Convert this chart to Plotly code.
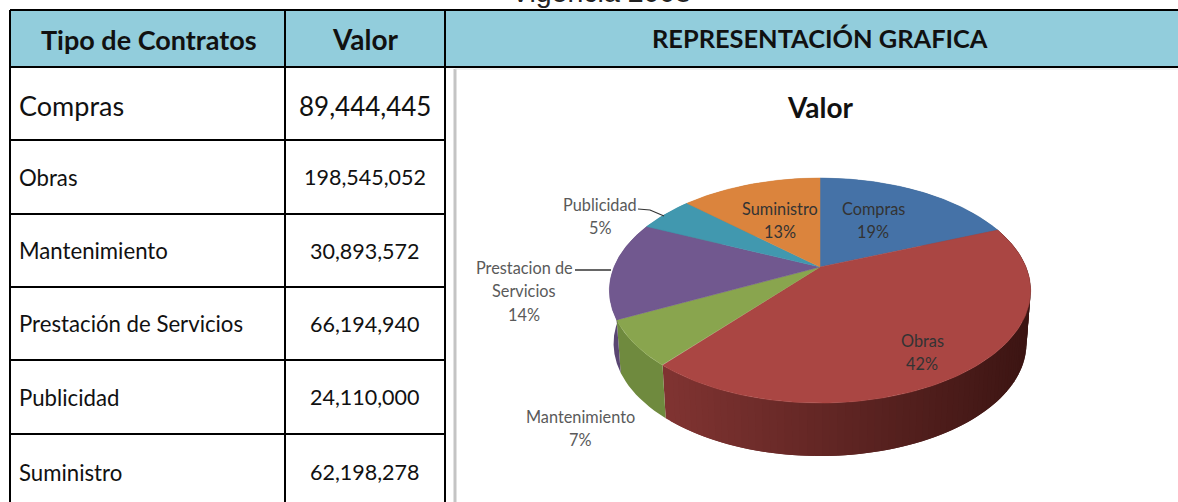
import numpy as np
import plotly.graph_objects as go

# ---- data ----
table_categories = ["Compras", "Obras", "Mantenimiento", "Prestación de Servicios", "Publicidad", "Suministro"]
values = [89444445, 198545052, 30893572, 66194940, 24110000, 62198278]
chart_labels = [["Compras"], ["Obras"], ["Mantenimiento"], ["Prestacion de", "Servicios"], ["Publicidad"], ["Suministro"]]
header_labels = ["Tipo de Contratos", "Valor", "REPRESENTACIÓN GRAFICA"]
page_title = "Vigencia 2008"
chart_title = "Valor"

# ---- styles / layout ----
top_colors = ["#4572a7", "#aa4643", "#89a54e", "#71588f", "#4198af", "#db843d"]
side_colors = ["#35567f", None, "#6f8a3e", "#5a4672", "#317a8d", "#b06a30"]
obras_side_from = np.array([0x3c, 0x15, 0x13])
obras_side_to = np.array([0x80, 0x34, 0x32])
FONT = "Lato"
row_edges = [67, 140, 214, 287, 360, 434]
col_edges = [10, 285, 445]
label_xy = [(873, 208), (922, 340), (580, 416), (524, 267), (600, 204), (780, 208)]
LINE_STEP = 23.5

# projection of the pie disc (pixel axes)
CX, CY, A, B, K, DEPTH, SHRINK = 820, 267, 206, 107.6, 0.209, 53, 0.98


def project(theta, drop=0.0, shrink=1.0):
    u, v = np.sin(theta), np.cos(theta)
    s = 1 / (1 + K * v)
    return CX + shrink * A * u * s, CY - B * v * s + drop


fig = go.Figure()
total = sum(values)
edges = np.concatenate([[0], np.cumsum(values)]) / total * 2 * np.pi

# page title, clipped by the page edge and the header band
fig.add_trace(go.Scatter(x=[601], y=[9], mode="text", text=[page_title], cliponaxis=True, textposition="top center",
                         textfont=dict(family="Liberation Sans", size=28.5, color="#222")))

# rim of the disc
for i in range(len(values)):
    a0, a1 = edges[i], edges[i + 1]
    n = 90 if side_colors[i] is None else 1
    cuts = np.linspace(a0, a1, n + 1)
    step = (a1 - a0) / n
    for j in range(n):
        t = np.linspace(max(a0, cuts[j] - step), cuts[j + 1], 12)
        xt, yt = project(t)
        xb, yb = project(t, DEPTH, SHRINK)
        if side_colors[i] is None:
            px = project(np.array([cuts[j]]))[0][0]
            f = 1 - np.clip((px - 665) / (1031 - 665), 0, 1)
            rgb = (obras_side_from + (obras_side_to - obras_side_from) * f).astype(int)
            col = f"rgb({rgb[0]},{rgb[1]},{rgb[2]})"
        else:
            col = side_colors[i]
        fig.add_trace(go.Scatter(x=np.r_[xt, xb[::-1]], y=np.r_[yt, yb[::-1]], mode="lines", fill="toself",
                                 fillcolor=col, line=dict(color=col, width=0)))

# top face
for i in range(len(values)):
    t = np.linspace(edges[i], edges[i + 1], 120)
    x, y = project(t)
    fig.add_trace(go.Scatter(x=np.r_[CX, x, CX], y=np.r_[CY, y, CY], mode="lines", fill="toself",
                             fillcolor=top_colors[i], line=dict(color=top_colors[i], width=0.5)))

shapes = []
BLACK = dict(color="#000", width=2)
shapes.append(dict(type="rect", x0=10, x1=1178, y0=10, y1=67, fillcolor="#92cddc", line_width=0, layer="above"))
shapes.append(dict(type="line", x0=10, x1=1178, y0=10, y1=10, line=BLACK, layer="above"))
shapes.append(dict(type="line", x0=10, x1=1178, y0=67, y1=67, line=BLACK, layer="above"))
for x in col_edges:
    shapes.append(dict(type="line", x0=x, x1=x, y0=10, y1=502, line=BLACK, layer="above"))
for y in row_edges[1:]:
    shapes.append(dict(type="line", x0=10, x1=445, y0=y, y1=y, line=BLACK, layer="above"))
shapes.append(dict(type="line", x0=455, x1=455, y0=69, y1=502, line=dict(color="#c4c4c4", width=3), layer="below"))
shapes.append(dict(type="line", x0=455, x1=1178, y0=69, y1=69, line=dict(color="#e4e4e4", width=1), layer="below"))
shapes.append(dict(type="path", path="M 638 209 L 650 210 L 664 216", line=dict(color="#333", width=1.2), layer="above"))
shapes.append(dict(type="line", x0=575, x1=611, y0=270, y1=270, line=dict(color="#333", width=1.4), layer="above"))

ann = []


def text(x, y, s, size, bold=False, color="#111", anchor="center", family=FONT):
    ann.append(dict(x=x, y=y, text=f"<b>{s}</b>" if bold else s, showarrow=False, xanchor=anchor, yanchor="middle",
                    font=dict(family=family, size=size, color=color), xref="x", yref="y"))


text(148.5, 39, header_labels[0], 27, True)
text(365.5, 39, header_labels[1], 28, True)
text(820, 38, header_labels[2], 25.4, True)
for i, (c, v) in enumerate(zip(table_categories, values)):
    yc = (row_edges[i] + row_edges[i + 1]) / 2 if i < 5 else 472
    big = i == 0
    text(17, yc + (2 if big else 0), c, 27 if big else 22.2, anchor="left")
    text(365, yc + (2 if big else 0), f"{v:,}", 26 if big else 21.5)
text(820, 107, chart_title, 28, True)
for i, (x, y) in enumerate(label_xy):
    pct = round(values[i] / total * 100)
    col = "#333" if i in (0, 1, 5) else "#5a5a5a"
    lines = chart_labels[i] + [f"{pct}%"]
    for k, line in enumerate(lines):
        text(x, y + k * LINE_STEP, line, 16.3, color=col)

fig.update_layout(
    width=1178, height=502, margin=dict(l=0, r=0, t=0, b=0), showlegend=False,
    paper_bgcolor="#fff", plot_bgcolor="#fff", hovermode=False,
    xaxis=dict(range=[0, 1178], visible=False, fixedrange=True),
    yaxis=dict(range=[502, 0], visible=False, fixedrange=True),
    shapes=shapes, annotations=ann,
)
fig.write_html("out.html", post_script="document.body.style.margin='0';document.body.style.overflow='hidden';",
               config=dict(displayModeBar=False))
